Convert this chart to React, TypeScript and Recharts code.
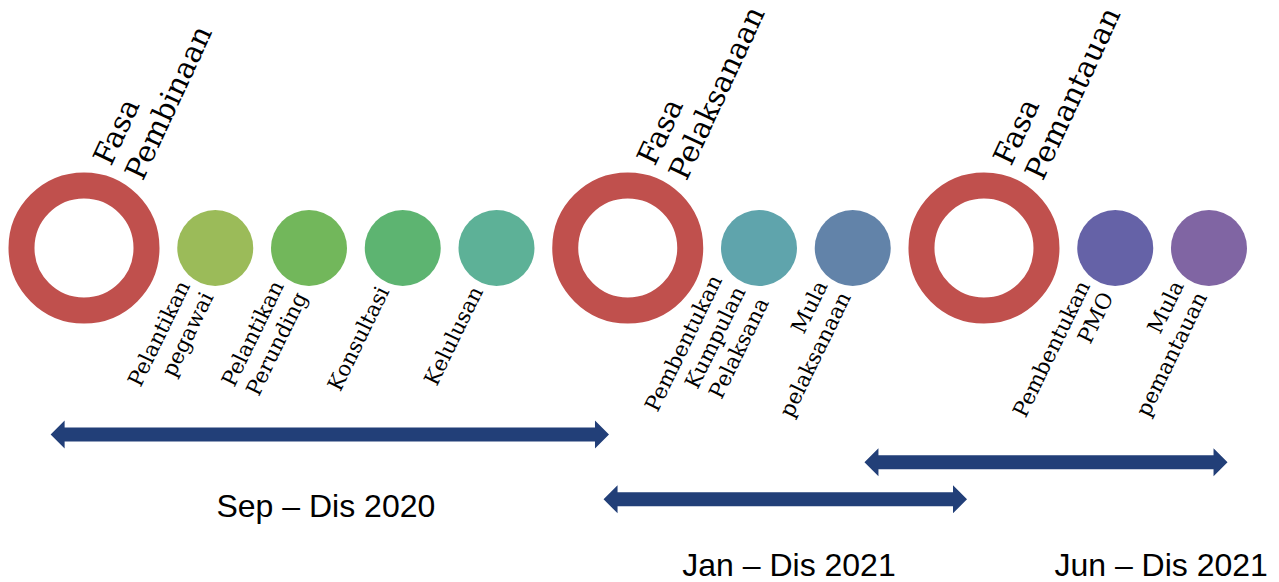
import React from 'react';
import { ScatterChart, Scatter, XAxis, YAxis, ReferenceLine } from 'recharts';

// ---- data ----
const phaseTitles = ['Fasa\nPembinaan', 'Fasa\nPelaksanaan', 'Fasa\nPemantauan'];
const phaseSlots = [0, 5.8, 9.6];

const stepTitles = [
  'Pelantikan\npegawai',
  'Pelantikan\nPerunding',
  'Konsultasi',
  'Kelulusan',
  'Pembentukan\nKumpulan\nPelaksana',
  'Mula\npelaksanaan',
  'Pembentukan\nPMO',
  'Mula\npemantauan',
];
const stepSlots = [1.4, 2.4, 3.4, 4.4, 7.2, 8.2, 11.0, 12.0];
const stepColors = ['#9BBB59', '#72B75B', '#5DB471', '#5DB197', '#5FA4AC', '#6283A9', '#6562A7', '#8065A3'];

const periodLabels = ['Sep – Dis 2020', 'Jan – Dis 2021', 'Jun – Dis 2021'];
const periodStarts = [-0.356, 5.542, 8.325];
const periodEnds = [5.6, 9.419, 12.198];
const periodLanes = [1.865, 2.513, 2.143];
const periodLabelSlots = [2.58, 7.52, 11.49];
const periodLabelLanes = [2.687, 3.28, 3.28];

// ---- tables built from the arrays ----
const phaseData = phaseTitles.map((t, i) => ({ x: phaseSlots[i], y: 0, title: t }));
const stepData = stepTitles.map((t, i) => ({ x: stepSlots[i], y: 0, title: t, color: stepColors[i] }));
const periodLabelData = periodLabels.map((t, i) => ({ x: periodLabelSlots[i], y: periodLabelLanes[i], title: t }));

const SERIF = "'DejaVu Serif', serif";
const SANS = "'Liberation Sans', Arial, sans-serif";

const RingShape = (props: any) => {
  const { cx, cy, payload } = props;
  const lines: string[] = String(payload.title).split('\n');
  return (
    <g>
      <circle cx={cx} cy={cy} r={62.5} fill="#ffffff" stroke="#C0504D" strokeWidth={26} />
      <text
        transform={`translate(${cx + 27},${cy - 81}) rotate(-65)`}
        fontFamily={SERIF}
        fontSize={29.5}
        fill="#000000"
      >
        {lines.map((l, i) => (
          <tspan key={i} x={0} y={i * 35}>
            {l}
          </tspan>
        ))}
      </text>
    </g>
  );
};

const DotShape = (props: any) => {
  const { cx, cy, payload } = props;
  const lines: string[] = String(payload.title).split('\n');
  const n = lines.length;
  return (
    <g>
      <circle cx={cx} cy={cy} r={38} fill={payload.color} />
      <text
        transform={`translate(${cx - 13},${cy + 43}) rotate(-64)`}
        fontFamily={SERIF}
        fontSize={21.4}
        fill="#000000"
        textAnchor="end"
      >
        {lines.map((l, i) => (
          <tspan key={i} x={0} y={(i - (n - 1) / 2) * 26}>
            {l}
          </tspan>
        ))}
      </text>
    </g>
  );
};

const PeriodLabel = (props: any) => {
  const { cx, cy, payload } = props;
  return (
    <text x={cx} y={cy} textAnchor="middle" fontFamily={SANS} fontSize={32} fill="#000000">
      {payload.title}
    </text>
  );
};

const ArrowShape = (props: any) => {
  const { x1, y1, x2 } = props;
  if (x1 == null || x2 == null || y1 == null) return <g />;
  const a = Math.min(x1, x2);
  const b = Math.max(x1, x2);
  const y = y1;
  const hl = 14;
  const hh = 14;
  const sh = 7;
  const pts = [
    [a, y],
    [a + hl, y - hh],
    [a + hl, y - sh],
    [b - hl, y - sh],
    [b - hl, y - hh],
    [b, y],
    [b - hl, y + hh],
    [b - hl, y + sh],
    [a + hl, y + sh],
    [a + hl, y + hh],
  ]
    .map((p) => p.join(','))
    .join(' ');
  return <polygon points={pts} fill="#223F78" />;
};

export default function App() {
  return (
    <div style={{ width: 1279, height: 582, background: '#ffffff' }}>
      <style>{`html,body{margin:0;padding:0;background:#fff;overflow:hidden}`}</style>
      <ScatterChart width={1279} height={582} margin={{ top: 0, right: 0, bottom: 0, left: 0 }}>
        <XAxis type="number" dataKey="x" domain={[-0.896, 12.747]} hide allowDataOverflow />
        <YAxis type="number" dataKey="y" domain={[-2.48, 3.34]} reversed hide allowDataOverflow />
        {periodLabels.map((p, i) => (
          <ReferenceLine
            key={p}
            segment={[
              { x: periodStarts[i], y: periodLanes[i] },
              { x: periodEnds[i], y: periodLanes[i] },
            ]}
            shape={ArrowShape}
            ifOverflow="visible"
          />
        ))}
        <Scatter data={phaseData} shape={RingShape} isAnimationActive={false} />
        <Scatter data={stepData} shape={DotShape} isAnimationActive={false} />
        <Scatter data={periodLabelData} shape={PeriodLabel} isAnimationActive={false} />
      </ScatterChart>
    </div>
  );
}
